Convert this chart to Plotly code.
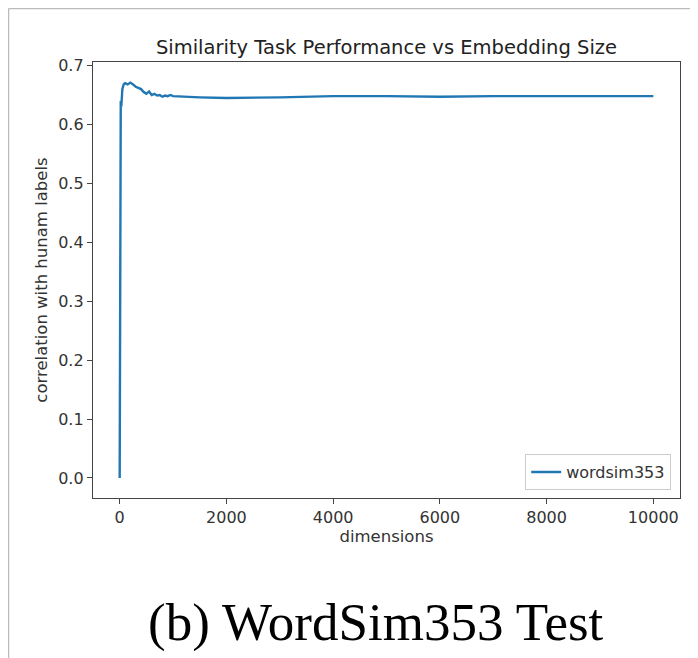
import plotly.graph_objects as go

# embedding size vs correlation with human labels
dimensions = [0, 10, 20, 30, 50, 75, 100, 150, 200, 250, 300, 350, 400, 450,
              500, 550, 600, 650, 700, 750, 800, 850, 900, 950, 1000,
              1500, 2000, 3000, 4000, 5000, 6000, 7000, 8000, 9000, 10000]
wordsim353 = [0.0, 0.60, 0.64, 0.63, 0.66, 0.668, 0.670, 0.668, 0.671, 0.668,
              0.664, 0.662, 0.660, 0.655, 0.652, 0.656, 0.650, 0.652, 0.649,
              0.650, 0.647, 0.649, 0.648, 0.650, 0.648,
              0.646, 0.645, 0.646, 0.648, 0.648, 0.647, 0.648, 0.648, 0.648, 0.648]

x_ticks = [0, 2000, 4000, 6000, 8000, 10000]
x_labels = ["0", "2000", "4000", "6000", "8000", "10000"]
y_ticks = [0.0, 0.1, 0.2, 0.3, 0.4, 0.5, 0.6, 0.7]

# page body has an 8px margin, so the figure is shrunk/shifted to match
OFF = 8
W, H = 698 - OFF, 658 - OFF
L, R, T, B = 93 - OFF, 18, 62 - OFF, 160
pw, ph = W - L - R, H - T - B

fig = go.Figure()
fig.add_trace(go.Scatter(x=dimensions, y=wordsim353, mode="lines", name="wordsim353",
                         line=dict(color="#1f77b4", width=2.4)))

axis_common = dict(showline=True, linecolor="#444", linewidth=1.3, mirror=True,
                   ticks="outside", ticklen=5, tickcolor="#444", showgrid=False,
                   zeroline=False, automargin=False,
                   tickfont=dict(family="DejaVu Sans", size=16, color="#333"))

fig.update_layout(
    width=W, height=H,
    margin=dict(l=L, r=R, t=T, b=B),
    paper_bgcolor="white", plot_bgcolor="white",
    font=dict(family="DejaVu Sans", color="#333"),
    title=dict(text="Similarity Task Performance vs Embedding Size", x=(L + pw / 2) / W,
               xanchor="center", y=1 - (47 - OFF) / H, yanchor="middle",
               font=dict(size=19.5, color="#222")),
    xaxis=dict(range=[-500, 10500], tickvals=x_ticks, ticktext=x_labels,
               title=dict(text="dimensions", font=dict(size=16.5), standoff=4), **axis_common),
    yaxis=dict(range=[-0.034, 0.706], tickvals=y_ticks, tickformat=".1f",
               title=dict(text="correlation with hunam labels", font=dict(size=16.5), standoff=6),
               **axis_common),
    showlegend=True,
    legend=dict(x=0.985, y=0.018, xanchor="right", yanchor="bottom",
                bordercolor="#ccc", borderwidth=1, bgcolor="white",
                font=dict(family="DejaVu Sans", size=16, color="#333")),
)

# caption under the figure
fig.add_annotation(text="(b) WordSim353 Test", xref="paper", yref="paper",
                   x=(376 - OFF - L) / pw, y=(H - B - (622 - OFF)) / ph,
                   xanchor="center", yanchor="middle",
                   showarrow=False, font=dict(family="Liberation Serif", size=53, color="black"))

# thin gray frame at top and left of the screenshot
fx = (0.5 - L) / pw
fy = (H - B - 0.5) / ph
fig.add_shape(type="line", xref="paper", yref="paper", x0=fx, x1=(W - L) / pw, y0=fy, y1=fy,
              line=dict(color="#bbb", width=1.5))
fig.add_shape(type="line", xref="paper", yref="paper", x0=fx, x1=fx, y0=fy, y1=-B / ph,
              line=dict(color="#bbb", width=1.5))

fig.write_html("out.html")
